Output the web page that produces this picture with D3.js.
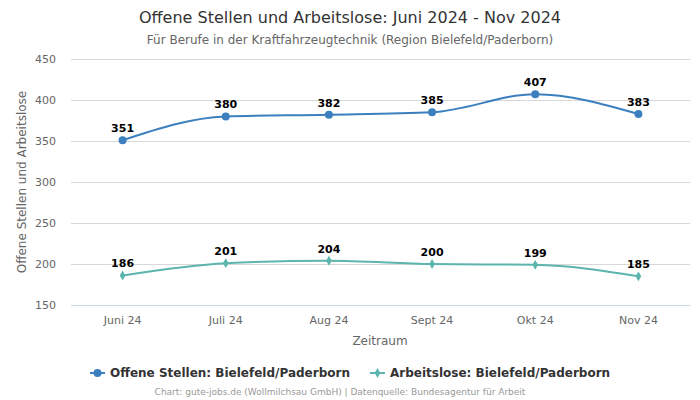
<!DOCTYPE html>
<html><head><meta charset="utf-8">
<script src="https://cdn.jsdelivr.net/npm/d3@7"></script>
<style>body{margin:0;background:#fff;font-family:"DejaVu Sans",sans-serif}</style>
</head><body><svg id="c" width="700" height="400"></svg>
<script>
const categories = ["Juni 24","Juli 24","Aug 24","Sept 24","Okt 24","Nov 24"];
const offeneStellen = [351,380,382,385,407,383];
const arbeitslose = [186,201,204,200,199,185];
const yTicks = [150,200,250,300,350,400,450];
const seriesNames = ["Offene Stellen: Bielefeld/Paderborn","Arbeitslose: Bielefeld/Paderborn"];

const svg = d3.select("#c");
const x = d3.scaleBand().domain(categories).range([71,690]);
const y = d3.scaleLinear().domain([150,450]).range([305,59]);
const cx = d => x(d) + x.bandwidth()/2;

svg.append("text").attr("x",350).attr("y",23).attr("text-anchor","middle")
  .attr("font-size",16).attr("fill","#333").text("Offene Stellen und Arbeitslose: Juni 2024 - Nov 2024");
svg.append("text").attr("x",350).attr("y",44).attr("text-anchor","middle")
  .attr("font-size",12).attr("fill","#666").text("Für Berufe in der Kraftfahrzeugtechnik (Region Bielefeld/Paderborn)");

// grid
svg.append("g").selectAll("line").data(yTicks).join("line")
  .attr("x1",71).attr("x2",690).attr("y1",d=>y(d)+0.5).attr("y2",d=>y(d)+0.5)
  .attr("stroke",d=>d===150?"#ccd6eb":"#d8d8d8").attr("stroke-width",1);

const yAxis = d3.axisLeft(y).tickValues(yTicks).tickSize(0).tickPadding(0);
const gy = svg.append("g").attr("transform","translate(56,0)").call(yAxis);
gy.select(".domain").remove();
gy.selectAll("text").attr("font-size",11).attr("fill","#666").attr("font-family","DejaVu Sans").attr("dy","0.35em");

const xAxis = d3.axisBottom(x).tickSize(0).tickPadding(0);
const gx = svg.append("g").attr("transform","translate(0,316)").call(xAxis);
gx.select(".domain").remove();
gx.selectAll("text").attr("font-size",11).attr("fill","#666").attr("font-family","DejaVu Sans").attr("dy","0.71em");

svg.append("text").attr("x",380).attr("y",345).attr("text-anchor","middle")
  .attr("font-size",12).attr("fill","#666").text("Zeitraum");
svg.append("text").attr("transform","translate(26,182) rotate(-90)").attr("text-anchor","middle")
  .attr("font-size",12).attr("fill","#666").text("Offene Stellen und Arbeitslose");

const line = d3.line().x((d,i)=>cx(categories[i])).y(d=>y(d)).curve(d3.curveMonotoneX);
const colors = ["#3b7fbf","#5cb5ad"];
[offeneStellen, arbeitslose].forEach((vals,si)=>{
  const g = svg.append("g");
  g.append("path").attr("d",line(vals)).attr("fill","none").attr("stroke",colors[si]).attr("stroke-width",2);
  if(si===0){
    g.selectAll("circle").data(vals).join("circle").attr("cx",(d,i)=>cx(categories[i])).attr("cy",d=>y(d)).attr("r",4).attr("fill",colors[si]);
  } else {
    g.selectAll("path.m").data(vals).join("path").attr("class","m")
      .attr("d",d3.symbol().type(d3.symbolDiamond).size(28))
      .attr("transform",(d,i)=>`translate(${cx(categories[i])},${y(d)})`).attr("fill",colors[si]);
  }
  g.selectAll("text").data(vals).join("text").attr("x",(d,i)=>cx(categories[i])).attr("y",d=>y(d)-8)
    .attr("text-anchor","middle").attr("font-size",11).attr("font-weight","bold").attr("fill","#000").text(d=>d);
});

// legend
const lg = svg.append("g");
const lx = [90,370];
seriesNames.forEach((n,i)=>{
  lg.append("line").attr("x1",lx[i]).attr("x2",lx[i]+15).attr("y1",373).attr("y2",373).attr("stroke",colors[i]).attr("stroke-width",2);
  if(i===0) lg.append("circle").attr("cx",lx[i]+7.5).attr("cy",373).attr("r",4).attr("fill",colors[i]);
  else lg.append("path").attr("d",d3.symbol().type(d3.symbolDiamond).size(28)).attr("transform",`translate(${lx[i]+7.5},373)`).attr("fill",colors[i]);
  lg.append("text").attr("x",lx[i]+20).attr("y",377).attr("font-size",12).attr("font-weight","bold").attr("fill","#333").text(n);
});
svg.append("text").attr("x",340).attr("y",395).attr("text-anchor","middle").attr("font-size",9).attr("fill","#999")
  .text("Chart: gute-jobs.de (Wollmilchsau GmbH) | Datenquelle: Bundesagentur für Arbeit");
</script></body></html>
